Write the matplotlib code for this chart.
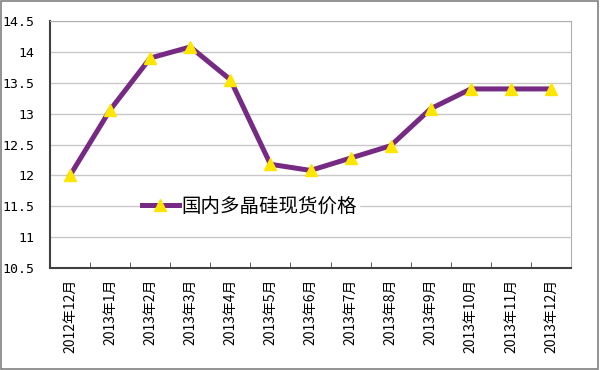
import matplotlib
matplotlib.use("Agg")
import matplotlib.pyplot as plt
import numpy as np
from matplotlib.patches import Rectangle

plt.rcParams["font.family"] = ["Noto Sans CJK SC", "DejaVu Sans"]

months = ["2012年12月", "2013年1月", "2013年2月", "2013年3月", "2013年4月",
          "2013年5月", "2013年6月", "2013年7月", "2013年8月", "2013年9月",
          "2013年10月", "2013年11月", "2013年12月"]
prices = [12.0, 13.06, 13.9, 14.08, 13.55, 12.18, 12.08, 12.28, 12.48,
          13.08, 13.4, 13.4, 13.4]
series_name = "国内多晶硅现货价格"
yticks = [10.5, 11, 11.5, 12, 12.5, 13, 13.5, 14, 14.5]

fig = plt.figure(figsize=(6, 3.7), dpi=100)
ax = fig.add_axes([50 / 600, 1 - 268 / 370, 521 / 600, 247 / 370])

x = np.arange(len(months))
ax.plot(x, prices, color="#762a83", lw=3.6, marker="^", ms=9,
        mfc="#ffe600", mec="#ffe600", label=series_name, zorder=3)

ax.set_xlim(-0.5, len(months) - 0.5)
ax.set_ylim(10.5, 14.5)
ax.set_yticks(yticks)
ax.set_yticklabels([f"{v:g}" for v in yticks], fontsize=9.5,
                   family="DejaVu Sans Mono")
ax.tick_params(axis="y", length=0, pad=11)
ax.grid(axis="y", color="#c8c8c8", lw=1)
ax.set_axisbelow(True)

ax.set_xticks(x)
ax.set_xticklabels(months, rotation=90, fontsize=10)
ax.tick_params(axis="x", length=0, pad=8)
ax.set_xticks(np.arange(-0.5, len(months)), minor=True)
ax.tick_params(axis="x", which="minor", direction="in", length=4,
               color="#404040")

for side in ("top", "right"):
    ax.spines[side].set_color("#b0b0b0")
for side in ("left", "bottom"):
    ax.spines[side].set_color("#404040")
    ax.spines[side].set_linewidth(1.5)

leg = ax.legend(loc="center left", bbox_to_anchor=(0.172, 0.25),
                frameon=True, fontsize=14, handlelength=1.9,
                handletextpad=0.15, borderpad=0.1, borderaxespad=0)
leg.get_frame().set_edgecolor("white")
leg.get_frame().set_facecolor("white")
leg.get_frame().set_alpha(1)

fig.patches.append(Rectangle((0.002, 0.003), 0.995, 0.993,
                             transform=fig.transFigure, fill=False,
                             edgecolor="#808080", lw=1.2))

fig.savefig("out.png", dpi=100, facecolor="white")
